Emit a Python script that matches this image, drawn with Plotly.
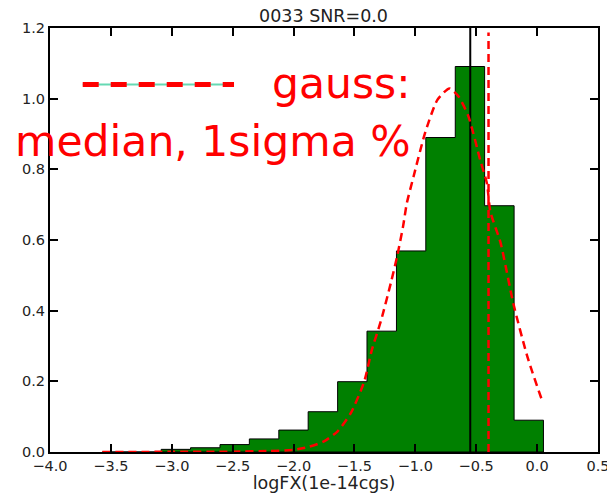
import numpy as np
import plotly.graph_objects as go

# ---- data ----
bin_edges = [-3.570, -3.329, -3.087, -2.846, -2.604, -2.363, -2.121, -1.880,
             -1.638, -1.397, -1.155, -0.914, -0.672, -0.431, -0.189, 0.052]
bin_heights = [0.0, 0.0, 0.0075, 0.012, 0.021, 0.037, 0.062, 0.114,
               0.199, 0.342, 0.569, 0.890, 1.091, 0.697, 0.090]

gauss_x = [-3.57, -3.0, -2.5, -2.2, -2.0, -1.87, -1.75, -1.64, -1.53, -1.42,
           -1.357, -1.28, -1.20, -1.15, -1.10, -1.07, -1.015, -0.92, -0.82,
           -0.72, -0.645, -0.563, -0.467, -0.412, -0.384, -0.30, -0.195,
           -0.08, 0.04, 0.05]
gauss_y = [0.0, 0.0005, 0.001, 0.003, 0.006, 0.015, 0.03, 0.058, 0.11, 0.199,
           0.289, 0.374, 0.48, 0.553, 0.64, 0.704, 0.779, 0.903, 0.996,
           1.029, 1.006, 0.949, 0.826, 0.760, 0.68, 0.592, 0.42,
           0.27, 0.147, 0.14]

median_x = -0.549
vline_x = -0.399
vline_top = 1.187

title_text = "0033 SNR=0.0"
xlabel = "logFX(1e-14cgs)"
legend_line1 = "gauss:"
legend_line2 = "median, 1sigma %"

x_ticks = [-4.0, -3.5, -3.0, -2.5, -2.0, -1.5, -1.0, -0.5, 0.0, 0.5]
y_ticks = [0.0, 0.2, 0.4, 0.6, 0.8, 1.0, 1.2]

# ---- build step outline (stepfilled histogram) ----
sx, sy = [bin_edges[0]], [0.0]
for i, h in enumerate(bin_heights):
    sx += [bin_edges[i], bin_edges[i + 1]]
    sy += [h, h]
sx.append(bin_edges[-1])
sy.append(0.0)
sx.append(bin_edges[0])
sy.append(0.0)

FONT = "DejaVu Sans"
fig = go.Figure()

fig.add_trace(go.Scatter(
    x=sx, y=sy, mode="lines", fill="toself", fillcolor="#008000",
    line=dict(color="black", width=1), hoverinfo="skip", showlegend=False))

fig.add_trace(go.Scatter(
    x=[median_x, median_x], y=[0, 1.2], mode="lines",
    line=dict(color="black", width=2), showlegend=False))

fig.add_trace(go.Scatter(
    x=gauss_x, y=gauss_y, mode="lines", line_shape="spline",
    line=dict(color="red", width=2.5, dash="8px,5px", smoothing=0.6), showlegend=False))

fig.add_trace(go.Scatter(
    x=[vline_x, vline_x], y=[0, vline_top], mode="lines",
    line=dict(color="red", width=2.5, dash="8px,5px"), showlegend=False))

# legend sample line
fig.add_shape(type="line", xref="paper", yref="paper",
              x0=0.0597, x1=0.3358, y0=0.867, y1=0.867,
              line=dict(color="#66d9b3", width=2))
fig.add_shape(type="line", xref="paper", yref="paper",
              x0=0.0597, x1=0.3358, y0=0.867, y1=0.867,
              line=dict(color="red", width=5, dash="16px,12px"))

fig.add_annotation(text=legend_line1, xref="paper", yref="paper",
                   x=0.662, y=0.869, xanchor="right", yanchor="middle",
                   showarrow=False, font=dict(family=FONT, size=42.5, color="red"))
fig.add_annotation(text=legend_line2, xref="paper", yref="paper",
                   x=0.662, y=0.732, xanchor="right", yanchor="middle",
                   showarrow=False, font=dict(family=FONT, size=42.5, color="red"))

axis_common = dict(showline=True, linecolor="black", linewidth=2, mirror="ticks",
                   ticks="inside", ticklen=8, tickwidth=2, tickcolor="black",
                   showgrid=False, zeroline=False, automargin=False,
                   ticklabeloverflow="allow",
                   tickfont=dict(family=FONT, size=14.5, color="#222"))

fig.update_xaxes(range=[-4.0, 0.5], tickvals=x_ticks, tickformat=".1f",
                 title=dict(text=xlabel, font=dict(family=FONT, size=17.5, color="#222"),
                            standoff=3), **axis_common)
fig.update_yaxes(range=[0, 1.2], tickvals=y_ticks, tickformat=".1f", **axis_common)

fig.update_layout(
    width=607, height=493,
    margin=dict(l=50, r=9, t=28, b=41),
    plot_bgcolor="white", paper_bgcolor="white",
    title=dict(text=title_text, x=0.533, xanchor="center", y=1 - 16 / 493,
               yanchor="middle", yref="container",
               font=dict(family=FONT, size=17.5, color="#222")),
    showlegend=False,
)

fig.write_html("out.html")
